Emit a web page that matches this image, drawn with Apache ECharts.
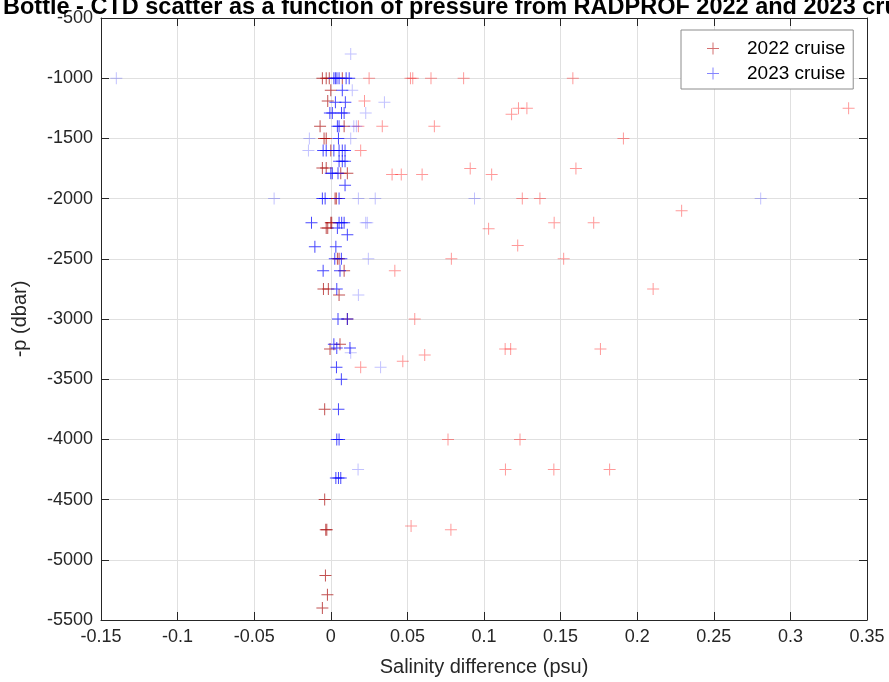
<!DOCTYPE html>
<html>
<head>
<meta charset="utf-8">
<script src="https://cdn.jsdelivr.net/npm/echarts@6/dist/echarts.min.js"></script>
<style>
  html, body { margin: 0; padding: 0; background: #fff; }
  #chart { width: 889px; height: 682px; }
</style>
</head>
<body>
<div id="chart"></div>
<script>
// [salinity difference (psu), -pressure (dbar)]
var cruise2022 = [
    [-0.0055, -1000], [-0.003, -1000], [-0.001, -1000], [0.0075, -1000], [0.025, -1000],
    [0.052, -1000], [0.0535, -1000], [0.0654, -1000], [0.0867, -1000], [0.158, -1000],
    [0.0, -1100], [-0.002, -1190], [0.022, -1190],
    [0.1225, -1250], [0.128, -1250], [0.338, -1250], [0.118, -1300],
    [-0.007, -1400], [0.0087, -1400], [0.018, -1400], [0.0336, -1400], [0.0676, -1400],
    [-0.0044, -1500], [-0.003, -1500], [0.191, -1500],
    [0.0, -1600], [0.0195, -1600],
    [-0.0055, -1745], [-0.003, -1745], [0.091, -1750], [0.160, -1750],
    [0.0065, -1790], [0.0108, -1790],
    [0.040, -1800], [0.046, -1800], [0.0596, -1800], [0.105, -1800],
    [0.0028, -2000], [0.0036, -2000], [0.125, -2000], [0.1365, -2000],
    [0.229, -2100],
    [0.0, -2200], [0.0006, -2200], [0.1458, -2200], [0.1716, -2200],
    [-0.003, -2245], [-0.002, -2245], [0.103, -2250],
    [0.122, -2390],
    [0.0043, -2500], [0.0054, -2500], [0.0787, -2500], [0.152, -2500],
    [0.0087, -2600], [0.0418, -2600],
    [-0.0048, -2750], [-0.0016, -2750], [0.2104, -2750],
    [0.0054, -2800],
    [0.0108, -3000], [0.0548, -3000],
    [0.006, -3210],
    [-0.0005, -3250], [0.1138, -3250], [0.1174, -3250], [0.176, -3250],
    [0.0613, -3300], [0.047, -3350], [0.0195, -3400],
    [-0.004, -3750],
    [0.0765, -4000], [0.1235, -4000],
    [0.114, -4250], [0.1456, -4250], [0.182, -4250],
    [-0.004, -4500],
    [0.0524, -4720],
    [-0.0033, -4750], [-0.0026, -4750], [0.0784, -4750],
    [-0.0035, -5130], [-0.0022, -5290], [-0.0055, -5400]
];

var cruise2023 = [
    [0.013, -800],
    [-0.14, -1000], [0.002, -1000], [0.003, -1000], [0.004, -1000], [0.0054, -1000],
    [0.010, -1000], [0.012, -1000],
    [0.0075, -1100], [0.014, -1100],
    [0.003, -1200], [0.0095, -1200], [0.035, -1200],
    [-0.0006, -1290], [0.001, -1290], [0.007, -1290], [0.0087, -1290], [0.0228, -1290],
    [0.0043, -1400], [0.0054, -1400], [0.015, -1400], [0.0167, -1400],
    [-0.014, -1500], [0.005, -1500], [0.013, -1500],
    [-0.0146, -1600], [-0.005, -1600], [-0.003, -1600], [0.002, -1600], [0.0054, -1600],
    [0.0075, -1600], [0.0093, -1600],
    [0.0054, -1690], [0.0075, -1690], [0.0093, -1690],
    [0.0, -1790], [0.001, -1790], [0.0047, -1790],
    [0.0093, -1890],
    [-0.037, -2000], [-0.0055, -2000], [-0.0037, -2000], [0.0054, -2000], [0.018, -2000],
    [0.029, -2000], [0.0938, -2000], [0.2806, -2000],
    [-0.0126, -2200], [0.0054, -2200], [0.0071, -2200], [0.0087, -2200], [0.0228, -2200],
    [0.0238, -2200],
    [0.0043, -2245], [0.0108, -2300],
    [-0.0104, -2400], [0.0033, -2400],
    [0.0026, -2500], [0.0069, -2500], [0.0245, -2500],
    [-0.005, -2600], [0.006, -2600],
    [0.0039, -2750], [0.018, -2800],
    [0.0047, -3000], [0.0108, -3000],
    [0.002, -3210], [0.0039, -3240], [0.0125, -3240], [0.013, -3280],
    [0.0037, -3400], [0.0325, -3400],
    [0.0069, -3500],
    [0.005, -3750],
    [0.0039, -4000], [0.0054, -4000],
    [0.0178, -4250],
    [0.0033, -4320], [0.005, -4320], [0.0065, -4320]
];

var seriesNames = ['2022 cruise', '2023 cruise'];
var xTicks = { min: -0.15, max: 0.35, step: 0.05 };
var yTicks = { min: -5500, max: -500, step: 500 };

var plus = 'path://M5.5,0H6.5V5.5H12V6.5H6.5V12H5.5V6.5H0V5.5H5.5Z';
var font = 'Liberation Sans, Arial, Helvetica, sans-serif';
var ink = '#262626';

// markers close to zero are drawn solid, the outliers faded
function shade(strong, faint) {
    return function (p) {
        return Math.abs(p.value[0]) <= 0.0126 ? strong : faint;
    };
}

var chart = echarts.init(document.getElementById('chart'));

var axisCommon = {
    axisLine: { show: true, onZero: false, lineStyle: { color: ink, width: 1 } },
    axisTick: { show: true, inside: true, length: 8, lineStyle: { color: ink } }
};

chart.setOption({
    animation: false,
    textStyle: { fontFamily: font },
    title: {
        text: 'Bottle - CTD scatter as a function of pressure from RADPROF 2022 and 2023 cruises',
        left: -2,
        top: -9,
        textStyle: { fontFamily: font, fontSize: 23.5, fontWeight: 'bold', color: '#000' }
    },
    legend: {
        orient: 'vertical',
        left: 681,
        top: 30,
        padding: [9, 8, 6, 26],
        itemWidth: 12,
        itemHeight: 12,
        itemGap: 6,
        backgroundColor: '#fff',
        borderColor: '#8c8c8c',
        borderWidth: 1,
        icon: plus,
        textStyle: { fontFamily: font, fontSize: 19, color: '#000', padding: [0, 0, 0, 23] },
        data: [
            { name: seriesNames[0], itemStyle: { color: 'rgba(180,0,0,0.7)' } },
            { name: seriesNames[1], itemStyle: { color: 'rgba(0,0,255,0.6)' } }
        ]
    },
    grid: { left: 101, right: 22, top: 18, bottom: 62, containLabel: false },
    xAxis: [
        Object.assign({
            type: 'value',
            min: xTicks.min,
            max: xTicks.max,
            interval: xTicks.step,
            name: 'Salinity difference (psu)',
            nameLocation: 'middle',
            nameGap: 37,
            nameTextStyle: { fontFamily: font, fontSize: 20, color: ink },
            axisLabel: {
                fontFamily: font, fontSize: 18, color: ink, margin: 8,
                formatter: function (v) { return String(+v.toFixed(2)); }
            },
            splitLine: { show: true, lineStyle: { color: '#e0e0e0', width: 1 } }
        }, axisCommon),
        Object.assign({
            type: 'value',
            position: 'top',
            min: xTicks.min,
            max: xTicks.max,
            interval: xTicks.step,
            axisLabel: { show: false },
            splitLine: { show: false }
        }, axisCommon)
    ],
    yAxis: [
        Object.assign({
            type: 'value',
            min: yTicks.min,
            max: yTicks.max,
            interval: yTicks.step,
            name: '-p (dbar)',
            nameLocation: 'middle',
            nameGap: 71,
            nameTextStyle: { fontFamily: font, fontSize: 20, color: ink },
            axisLabel: {
                fontFamily: font, fontSize: 18, color: ink, margin: 8,
                formatter: function (v) { return String(v); }
            },
            splitLine: { show: true, lineStyle: { color: '#e0e0e0', width: 1 } }
        }, axisCommon),
        Object.assign({
            type: 'value',
            position: 'right',
            min: yTicks.min,
            max: yTicks.max,
            interval: yTicks.step,
            axisLabel: { show: false },
            splitLine: { show: false }
        }, axisCommon)
    ],
    series: [
        {
            name: seriesNames[0],
            type: 'scatter',
            symbol: plus,
            symbolSize: 12,
            data: cruise2022,
            itemStyle: { color: shade('rgba(165,0,0,0.85)', 'rgba(255,0,0,0.5)') }
        },
        {
            name: seriesNames[1],
            type: 'scatter',
            symbol: plus,
            symbolSize: 12,
            data: cruise2023,
            itemStyle: { color: shade('rgba(0,0,255,0.9)', 'rgba(0,0,255,0.3)') }
        }
    ]
});
</script>
</body>
</html>
